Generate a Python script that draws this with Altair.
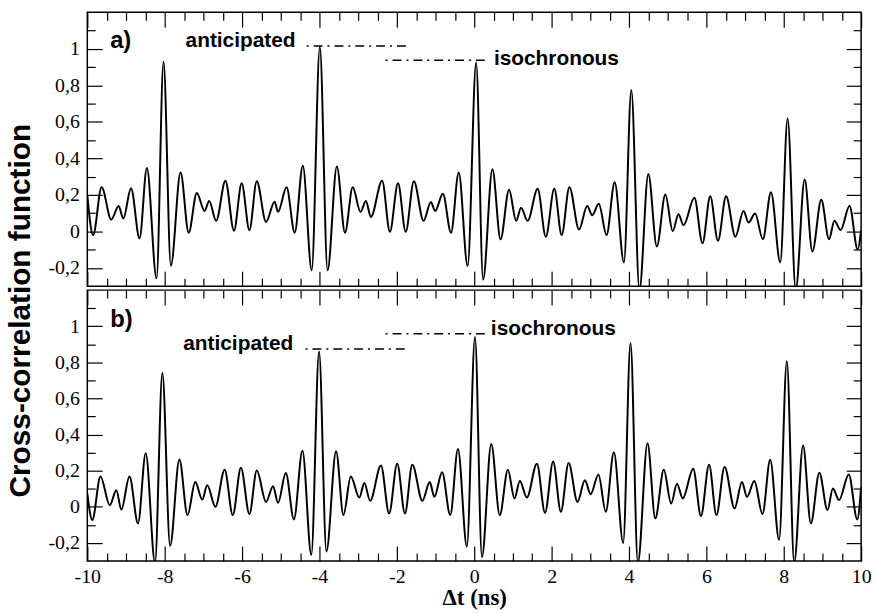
import altair as alt
import pandas as pd

# ---------------- data ----------------
# panel a) : extrema of the cross-correlation curve
a_t = [-10.0, -9.85, -9.63, -9.38, -9.19, -9.07, -8.87, -8.65, -8.46, -8.21,
       -8.03, -7.84, -7.59, -7.38, -7.17, -6.97, -6.85, -6.67, -6.43, -6.21,
       -6.01, -5.81, -5.62, -5.38, -5.16, -5.07, -4.85, -4.64, -4.43, -4.20,
       -3.99, -3.79, -3.55, -3.34, -3.14, -2.94, -2.80, -2.67, -2.38, -2.18,
       -1.97, -1.77, -1.56, -1.31, -1.12, -1.01, -0.81, -0.60, -0.40, -0.17,
       0.05, 0.23, 0.47, 0.68, 0.90, 1.085, 1.21, 1.38, 1.64, 1.85,
       2.07, 2.26, 2.46, 2.71, 2.92, 3.05, 3.22, 3.42, 3.63, 3.87,
       4.06, 4.27, 4.50, 4.72, 4.94, 5.13, 5.28, 5.41, 5.69, 5.90,
       6.10, 6.30, 6.51, 6.75, 6.96, 7.09, 7.26, 7.46, 7.67, 7.91,
       8.10, 8.31, 8.54, 8.74, 8.97, 9.17, 9.31, 9.47, 9.70, 9.91,
       10.0]
a_c = [0.197, -0.02, 0.242, 0.065, 0.139, 0.07, 0.237, -0.038, 0.347, -0.257,
       0.929, -0.188, 0.323, -0.007, 0.21, 0.112, 0.166, 0.058, 0.278, 0.004,
       0.264, 0.007, 0.275, 0.052, 0.163, 0.107, 0.242, -0.007, 0.36, -0.213,
       1.01, -0.213, 0.356, -0.007, 0.242, 0.107, 0.166, 0.079, 0.278, -0.002,
       0.264, -0.002, 0.275, 0.058, 0.161, 0.112, 0.206, -0.007, 0.323, -0.19,
       0.925, -0.264, 0.341, -0.043, 0.228, 0.058, 0.13, 0.058, 0.233, -0.029,
       0.233, -0.02, 0.242, 0.011, 0.139, 0.089, 0.152, -0.02, 0.269, -0.17,
       0.775, -0.32, 0.314, -0.083, 0.202, 0.002, 0.094, 0.034, 0.184, -0.065,
       0.192, -0.051, 0.192, -0.029, 0.112, 0.049, 0.098, -0.043, 0.215, -0.17,
       0.618, -0.32, 0.284, -0.11, 0.173, -0.043, 0.058, 0.007, 0.139, -0.098,
       0.007]

# panel b)
b_t = [-10.0, -9.87, -9.66, -9.42, -9.25, -9.12, -8.91, -8.69, -8.49, -8.25,
       -8.06, -7.86, -7.62, -7.41, -7.21, -7.03, -6.90, -6.69, -6.45, -6.24,
       -6.03, -5.81, -5.62, -5.38, -5.20, -5.07, -4.87, -4.66, -4.44, -4.21,
       -4.01, -3.82, -3.57, -3.38, -3.19, -2.97, -2.84, -2.69, -2.41, -2.20,
       -1.99, -1.79, -1.60, -1.34, -1.15, -1.03, -0.83, -0.62, -0.42, -0.19,
       0.02, 0.20, 0.44, 0.66, 0.87, 1.04, 1.18, 1.36, 1.62, 1.83,
       2.04, 2.24, 2.44, 2.67, 2.86, 3.01, 3.21, 3.40, 3.61, 3.85,
       4.04, 4.23, 4.48, 4.68, 4.90, 5.09, 5.24, 5.39, 5.66, 5.86,
       6.07, 6.26, 6.47, 6.73, 6.92, 7.05, 7.24, 7.45, 7.65, 7.88,
       8.08, 8.27, 8.50, 8.70, 8.92, 9.13, 9.27, 9.43, 9.68, 9.90,
       10.0]
b_c = [0.073, -0.073, 0.168, 0.009, 0.092, -0.015, 0.168, -0.092, 0.297, -0.31,
       0.742, -0.216, 0.262, -0.046, 0.137, 0.04, 0.119, 0.0, 0.205, -0.046,
       0.216, -0.04, 0.201, 0.027, 0.114, 0.022, 0.187, -0.07, 0.311, -0.266,
       0.86, -0.247, 0.308, -0.046, 0.168, 0.051, 0.132, 0.033, 0.229, -0.037,
       0.238, -0.037, 0.233, 0.033, 0.137, 0.055, 0.192, -0.046, 0.32, -0.22,
       0.94, -0.278, 0.348, -0.046, 0.205, 0.046, 0.143, 0.051, 0.238, -0.033,
       0.251, -0.027, 0.242, 0.027, 0.147, 0.07, 0.179, -0.027, 0.302, -0.2,
       0.907, -0.31, 0.352, -0.064, 0.205, 0.018, 0.128, 0.046, 0.211, -0.051,
       0.233, -0.046, 0.22, -0.009, 0.137, 0.055, 0.143, -0.04, 0.26, -0.183,
       0.806, -0.31, 0.339, -0.092, 0.189, -0.018, 0.101, 0.037, 0.179, -0.07,
       0.11]

# annotations
ann_labels = ["anticipated", "isochronous"]
panel_tags = ["a)", "b)"]
tag_t = [-9.41, -9.41]
tag_c = [1.004, 0.998]
a_label_t = [-7.46, 0.51]
a_label_c = [1.01, 0.914]
b_label_t = [-7.52, 0.43]
b_label_c = [0.87, 0.953]
a_line_t1 = [-4.33, -2.29]
a_line_t2 = [-1.74, 0.30]
a_line_c = [1.015, 0.938]
b_line_t1 = [-4.36, -2.29]
b_line_t2 = [-1.79, 0.33]
b_line_c = [0.874, 0.958]

# ticks
x_major = [-10, -8, -6, -4, -2, 0, 2, 4, 6, 8, 10]
x_minor = [v / 2 for v in range(-19, 20) if v % 4 != 0]
y_major = [-0.2, 0, 0.2, 0.4, 0.6, 0.8, 1]
y_minor = [-0.1, 0.1, 0.3, 0.5, 0.7, 0.9, 1.1]

# ---------------- styling ----------------
SANS = "Liberation Sans"
SERIF = "Liberation Serif"
W = 780
H_A = 276
H_B = 273

x_scale = alt.Scale(domain=[-10, 10], nice=False, zero=False)
y_scale = alt.Scale(domain=[-0.3, 1.2], nice=False, zero=False)


def tick_axis(orient, values, size):
    return alt.Axis(orient=orient, values=values, tickSize=size, offset=-size,
                    labels=False, domain=False, grid=False, ticks=True,
                    tickColor="black", tickWidth=1.2, title=None)


def x_label_axis():
    return alt.Axis(orient="bottom", values=x_major, ticks=False, tickSize=0,
                    domain=False, grid=False, labels=True,
                    labelExpr="datum.value + ''", labelFont=SERIF,
                    labelFontSize=20, labelColor="black", labelPadding=6,
                    labelFlush=False, labelOverlap=False,
                    title="\u0394t (ns)", titleFont=SERIF, titleFontSize=23,
                    titleFontWeight="bold", titleColor="black", titlePadding=0)


def y_label_axis():
    return alt.Axis(orient="left", values=y_major, ticks=False, tickSize=0,
                    domain=False, grid=False, labels=True,
                    labelExpr="replace(datum.value + '', '.', ',')",
                    labelFont=SERIF, labelFontSize=20, labelColor="black",
                    labelPadding=8, labelFlush=False, labelOverlap=False,
                    title=None)


def panel(t, c, idx, lab_t, lab_c, l_t1, l_t2, l_c, height, with_x_labels):
    df = pd.DataFrame({"t": t, "c": c})
    base = alt.Chart(df)
    curve = base.mark_line(color="black", strokeWidth=2, interpolate="monotone",
                           clip=True).encode(
        x=alt.X("t:Q", scale=x_scale, axis=tick_axis("bottom", x_major, 15)),
        y=alt.Y("c:Q", scale=y_scale, axis=tick_axis("left", y_major, 15)))
    # invisible carriers for the extra axes (kept inside the frame)
    ghost = base.transform_filter("datum.c >= -0.3").mark_point(
        opacity=0, size=0, strokeWidth=0, clip=True)
    g1 = ghost.encode(
        x=alt.X("t:Q", scale=x_scale, axis=tick_axis("bottom", x_minor, 8)),
        y=alt.Y("c:Q", scale=y_scale, axis=tick_axis("left", y_minor, 8)))
    g2 = ghost.encode(
        x=alt.X("t:Q", scale=x_scale, axis=tick_axis("top", x_major, 15)),
        y=alt.Y("c:Q", scale=y_scale, axis=tick_axis("right", y_major, 15)))
    g3 = ghost.encode(
        x=alt.X("t:Q", scale=x_scale, axis=tick_axis("top", x_minor, 8)),
        y=alt.Y("c:Q", scale=y_scale, axis=tick_axis("right", y_minor, 8)))
    g4 = ghost.encode(
        x=alt.X("t:Q", scale=x_scale,
                axis=x_label_axis() if with_x_labels else None),
        y=alt.Y("c:Q", scale=y_scale, axis=y_label_axis()))

    tag_df = pd.DataFrame({"t": [tag_t[idx]], "c": [tag_c[idx]],
                           "s": [panel_tags[idx]]})
    tag_layer = alt.Chart(tag_df).mark_text(
        font=SANS, fontSize=24, fontWeight="bold", align="left",
        baseline="alphabetic", color="black").encode(
        x=alt.X("t:Q", scale=x_scale, axis=None),
        y=alt.Y("c:Q", scale=y_scale, axis=None), text="s:N")

    lab_df = pd.DataFrame({"t": lab_t, "c": lab_c, "s": ann_labels})
    lab_layer = alt.Chart(lab_df).mark_text(
        font=SANS, fontSize=21, fontWeight="bold", align="left",
        baseline="alphabetic", color="black").encode(
        x=alt.X("t:Q", scale=x_scale, axis=None),
        y=alt.Y("c:Q", scale=y_scale, axis=None), text="s:N")

    line_df = pd.DataFrame({"t1": l_t1, "t2": l_t2, "c": l_c})
    rule = alt.Chart(line_df).mark_rule(
        color="black", strokeWidth=1.5, strokeDash=[2, 5, 9, 5]).encode(
        x=alt.X("t1:Q", scale=x_scale, axis=None), x2="t2:Q",
        y=alt.Y("c:Q", scale=y_scale, axis=None))

    return alt.layer(curve, g1, g2, g3, g4, tag_layer, lab_layer, rule).resolve_axis(
        x="independent", y="independent").properties(width=W, height=height)


pa = panel(a_t, a_c, 0, a_label_t, a_label_c, a_line_t1, a_line_t2, a_line_c, H_A, False)
pb = panel(b_t, b_c, 1, b_label_t, b_label_c, b_line_t1, b_line_t2, b_line_c, H_B, True)

chart = alt.vconcat(
    pa, pb, spacing=0,
    title=alt.TitleParams("Cross-correlation function", orient="left",
                          anchor="middle", font=SANS, fontSize=30,
                          fontWeight="bold", color="black", offset=11),
).properties(
    padding={"left": 6, "top": 8, "right": 5, "bottom": 0},
    background="white",
).configure_view(stroke="black", strokeWidth=1.5)

chart.save("out.html", embed_options={"renderer": "svg", "actions": False})
